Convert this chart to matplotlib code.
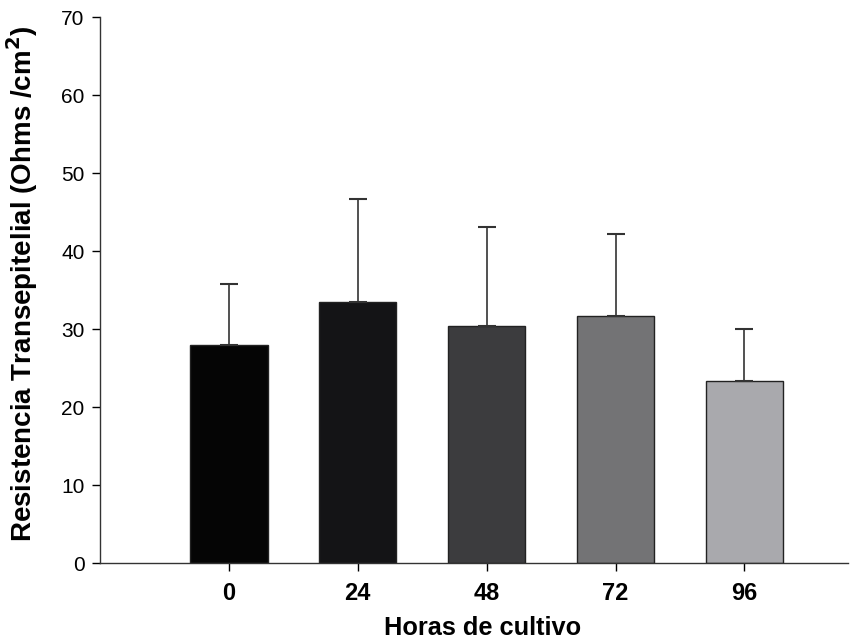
import numpy as np
import matplotlib.pyplot as plt

plt.rcParams['font.family'] = ['Liberation Sans', 'DejaVu Sans']

horas = ['0', '24', '48', '72', '96']
resistencia = [27.9, 33.5, 30.4, 31.7, 23.3]
error = [7.9, 13.2, 12.7, 10.5, 6.7]
colores = ['#050505', '#141416', '#3c3c3e', '#737375', '#a9a9ad']

fig = plt.figure(figsize=(8.64, 6.4), dpi=100)
ax = fig.add_axes([0.1157, 0.1203, 0.8653, 0.8527])

x = np.arange(len(horas))
ax.bar(x, resistencia, width=0.6, color=colores, edgecolor='#222222', linewidth=1.0,
       yerr=[np.zeros(len(error)), error],
       error_kw=dict(ecolor='#333333', elinewidth=1.2, capsize=6.5, capthick=1.5))

ax.set_xlim(-1, 4.8)
ax.set_ylim(0, 70)
ax.set_yticks(range(0, 71, 10))
ax.set_xticks(x, horas)
ax.tick_params(axis='y', labelsize=15, direction='out', length=6, width=1, pad=5)
ax.tick_params(axis='x', labelsize=17, direction='out', length=6, width=1, pad=8)
for lab in ax.get_xticklabels():
    lab.set_fontweight('bold')

ax.spines['top'].set_visible(False)
ax.spines['right'].set_visible(False)
for s in ['left', 'bottom']:
    ax.spines[s].set_color('#333333')
    ax.spines[s].set_linewidth(1.0)

ax.set_xlabel('Horas de cultivo', fontsize=18.3, fontweight='bold')
ax.set_ylabel('Resistencia Transepitelial (Ohms /cm$^\\mathbf{2}$)', fontsize=20,
              fontweight='bold')
ax.xaxis.set_label_coords(0.512, -0.098)
ax.yaxis.set_label_coords(-0.080, 0.512)

fig.savefig('out.png', dpi=100)
